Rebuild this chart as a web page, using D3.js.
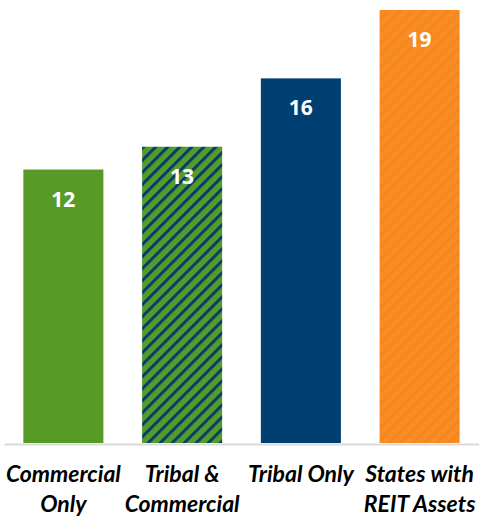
<!DOCTYPE html>
<html>
<head>
<meta charset="utf-8">
<script src="https://cdn.jsdelivr.net/npm/d3@7"></script>
<style>
  html, body { margin: 0; padding: 0; background: #ffffff; }
  svg { display: block; }
</style>
</head>
<body>
<svg id="chart" width="479" height="516"></svg>
<script>
// Category labels (line breaks marked with "\n")
const categories = [
  "Commercial\nOnly",
  "Tribal &\nCommercial",
  "Tribal Only",
  "States with\nREIT Assets"
];
// Number of states per category
const values = [12, 13, 16, 19];
// Fill style per bar
const fills = ["solid-green", "stripe-green-blue", "solid-blue", "stripe-orange"];

const W = 479, H = 516;
const baseY = 443, topY = 10, left = 4, right = 479;

const svg = d3.select("#chart");
const defs = svg.append("defs");

// Diagonal stripe patterns
function stripe(id, bg, fg, period, lineW) {
  const p = defs.append("pattern")
    .attr("id", id)
    .attr("patternUnits", "userSpaceOnUse")
    .attr("width", period)
    .attr("height", period)
    .attr("patternTransform", "rotate(45)");
  p.append("rect").attr("width", period).attr("height", period).attr("fill", bg);
  p.append("rect").attr("width", lineW).attr("height", period).attr("fill", fg);
}
stripe("stripe-green-blue", "#579a25", "#003f72", 8.5, 3);
stripe("stripe-orange", "#fd8b21", "#ef8a22", 8.5, 3.5);

const colorFor = {
  "solid-green": "#579a25",
  "solid-blue": "#003f72",
  "stripe-green-blue": "url(#stripe-green-blue)",
  "stripe-orange": "url(#stripe-orange)"
};

const x = d3.scaleBand()
  .domain(d3.range(categories.length))
  .range([left, right])
  .paddingInner(0.326)
  .paddingOuter(0.163);

const y = d3.scaleLinear()
  .domain([0, d3.max(values)])
  .range([baseY, topY]);

// Bars
svg.append("g")
  .selectAll("rect")
  .data(values)
  .join("rect")
  .attr("x", (d, i) => x(i))
  .attr("y", d => y(d))
  .attr("width", x.bandwidth())
  .attr("height", d => baseY - y(d))
  .attr("fill", (d, i) => colorFor[fills[i]]);

// Value labels inside the bars
svg.append("g")
  .selectAll("text")
  .data(values)
  .join("text")
  .attr("x", (d, i) => x(i) + x.bandwidth() / 2)
  .attr("y", d => y(d) + 37)
  .attr("text-anchor", "middle")
  .attr("fill", "#ffffff")
  .style("font-family", "'Open Sans', 'Liberation Sans', sans-serif")
  .style("font-weight", "700")
  .style("font-size", "21px")
  .text(d => d);

// Baseline axis
const axis = d3.axisBottom(x).tickSize(0).tickFormat("");
const gAxis = svg.append("g")
  .attr("transform", `translate(0,${baseY + 1})`)
  .call(axis);
gAxis.select(".domain")
  .attr("stroke", "#d9d9d9")
  .attr("stroke-width", 2);

// Category labels
const lab = svg.append("g")
  .selectAll("text")
  .data(categories)
  .join("text")
  .attr("text-anchor", "middle")
  .attr("fill", "#000000")
  .style("font-family", "Lato, 'Open Sans', sans-serif")
  .style("font-weight", "700")
  .style("font-style", "italic")
  .style("font-size", "23px");

lab.each(function (d, i) {
  const t = d3.select(this);
  d.split("\n").forEach((line, j) => {
    t.append("tspan")
      .attr("x", x(i) + x.bandwidth() / 2)
      .attr("y", 482 + j * 30)
      .text(line);
  });
});
</script>
</body>
</html>
